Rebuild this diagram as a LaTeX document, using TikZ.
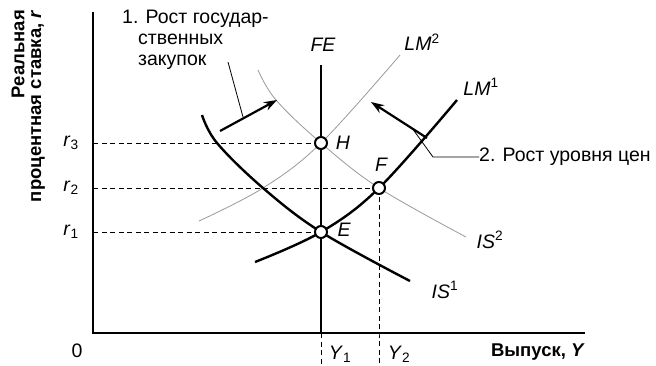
\documentclass[tikz,border=0pt]{standalone}
\usepackage{fontspec}
\setmainfont{Liberation Sans}
\usetikzlibrary{arrows.meta}
\newcommand{\lbl}[2]{\textit{#1}\textsubscript{#2}}
\newcommand{\lbu}[2]{\textit{#1}\textsuperscript{#2}}
\begin{document}
\begin{tikzpicture}[x=1pt,y=-1pt,
  txt/.style={font=\fontsize{19.5}{21}\selectfont, inner sep=0pt},
  itl/.style={font=\fontsize{19.5}{21}\selectfont\itshape, inner sep=0pt},
  bld/.style={font=\fontsize{18.5}{21}\selectfont\bfseries, inner sep=0pt},
  thickcurve/.style={line width=2.4pt, black},
  graycurve/.style={line width=0.8pt, black!40},
  guide/.style={dash pattern=on 5pt off 3.5pt, line width=0.9pt},
  axisline/.style={line width=1.2pt},
  pt/.style={circle, draw=black, fill=white, line width=2pt, minimum size=12pt, inner sep=0pt},
  shiftarrow/.style={line width=2.2pt, -{Stealth[length=13pt,width=9pt]}},
  leader/.style={line width=0.8pt}]
\useasboundingbox (0,0) rectangle (656,365);
% axes
\coordinate (O) at (93,333);
\coordinate (ytop) at (93,12);
\coordinate (xend) at (585,333);
\draw[axisline] (ytop) -- (O) -- (xend);
% axis labels
\node[bld, rotate=90, anchor=east] (yl1) at (18,10) {Реальная};
\node[bld, rotate=90, anchor=east] (yl2) at (38,10) {процентная ставка, \textit{r}};
\node[bld, anchor=east] (xl) at (585,352) {Выпуск, \textit{Y}};
\node[txt] (zero) at (77,351) {0};
% equilibrium points
\coordinate (H) at (321,143);
\coordinate (E) at (321,232);
\coordinate (F) at (379,188);
% FE line
\coordinate (FEtop) at (321,65);
\coordinate (FEbot) at (321,333);
\coordinate (Y1b) at (321,365);
\coordinate (Y2a) at (379,333);
\coordinate (Y2b) at (379,365);
\draw[line width=2pt] (FEtop) -- (FEbot);
\draw[guide] (FEbot) -- (Y1b);
\draw[guide] (F) -- (Y2a) -- (Y2b);
\node[itl] (FE) at (323,45) {FE};
% dashed guides
\coordinate (r3a) at (93,143);
\coordinate (r2a) at (93,188);
\coordinate (r1a) at (93,232);
\draw[guide] (r3a) -- (H);
\draw[guide] (r2a) -- (F);
\draw[guide] (r1a) -- (E);
\node[txt] (r3) at (71,143) {\lbl{r}{3}};
\node[txt] (r2) at (71,188) {\lbl{r}{2}};
\node[txt] (r1) at (71,232) {\lbl{r}{1}};
\node[txt] (Y1) at (340,354) {\lbl{Y}{1}};
\node[txt] (Y2) at (399,354) {\lbl{Y}{2}};
% curves
\draw[graycurve] plot[smooth, tension=0.6] coordinates {(258,70) (276,100) (321,143) (379,188) (466,237)};
\draw[graycurve] plot[smooth, tension=0.6] coordinates {(199,221) (263,188) (321,143) (400,55)};
\draw[thickcurve] plot[smooth, tension=0.6] coordinates {(202,115) (217,143) (263,188) (321,232) (410,281)};
\draw[thickcurve] plot[smooth, tension=0.6] coordinates {(255,262) (321,232) (379,188) (457,100)};
\node[txt] (IS1) at (445,290) {\lbu{IS}{1}};
\node[txt] (IS2) at (490,240) {\lbu{IS}{2}};
\node[txt] (LM1) at (481,87) {\lbu{LM}{1}};
\node[txt] (LM2) at (422,42) {\lbu{LM}{2}};
% points
\node[pt] (pH) at (H) {};
\node[pt] (pE) at (E) {};
\node[pt] (pF) at (F) {};
\node[itl] (Hl) at (343,143) {H};
\node[itl] (El) at (344,230) {E};
\node[itl] (Fl) at (381,165) {F};
% shift arrows
\coordinate (a1s) at (220,131);
\coordinate (a1e) at (277,100);
\draw[shiftarrow] (a1s) -- (a1e);
\coordinate (a2s) at (427,138);
\coordinate (a2e) at (371,102);
\draw[shiftarrow] (a2s) -- (a2e);
% annotation 1
\node[txt, anchor=north west, align=left] (note1) at (122,10) {1. Рост государ-\\\hspace*{16pt}ственных\\\hspace*{16pt}закупок};
\coordinate (l1a) at (228,62);
\coordinate (l1b) at (243,117);
\draw[leader] (l1a) -- (l1b);
% annotation 2
\node[txt, anchor=west] (note2) at (479,157) {2. Рост уровня цен};
\coordinate (l2a) at (412,128);
\coordinate (l2b) at (433,157);
\draw[leader] (l2a) -- (l2b) -- (note2.west);
\end{tikzpicture}
\end{document}
